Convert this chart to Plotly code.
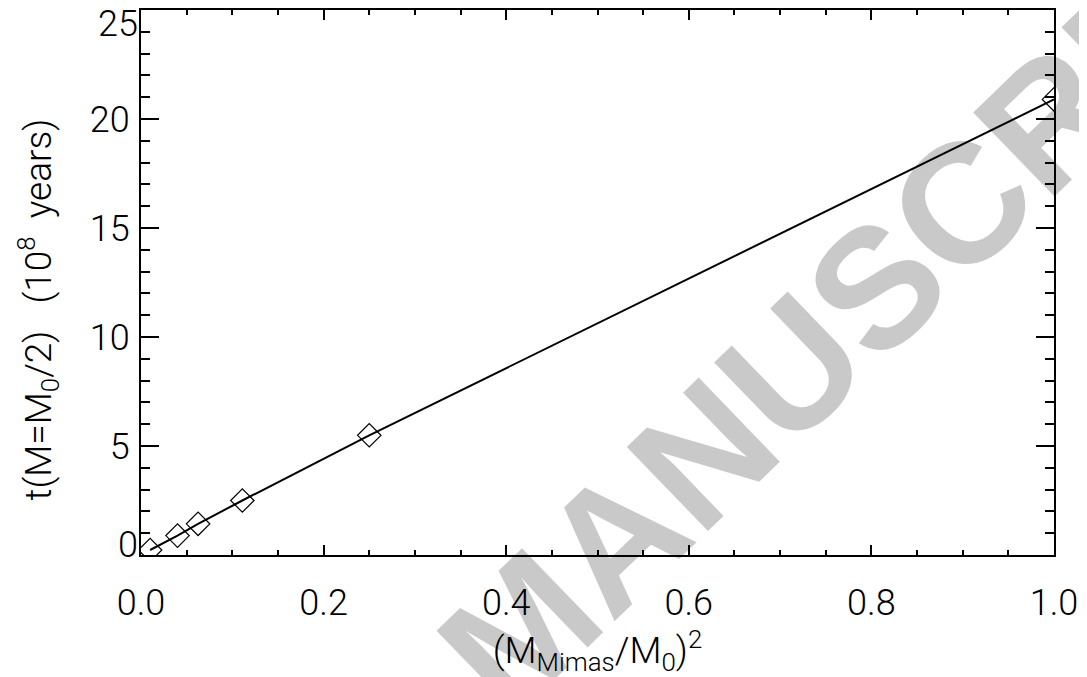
import plotly.graph_objects as go

# Data
mass_ratio_sq = [0.01, 0.04, 0.0625, 0.111, 0.25, 1.0]   # (M_Mimas/M_0)^2
t_half = [0.23, 0.89, 1.43, 2.50, 5.49, 20.9]            # t(M=M0/2) in 1e8 years

x_tick_vals = [0.0, 0.2, 0.4, 0.6, 0.8, 1.0]
x_tick_text = ["0.0", "0.2", "0.4", "0.6", "0.8", "1.0"]
y_tick_vals = [0, 5, 10, 15, 20, 25]
y_tick_text = ["", "5", "10", "15", "20", ""]
# end labels sit just inside the frame, as in the original
y_edge_label_pos = [0.5, 24.4]
y_edge_label_text = ["0", "25"]

TICK_FONT = dict(family="Roboto", size=36, color="black", weight=300)
TITLE_FONT = dict(family="Roboto", size=37, color="black", weight=300)

fig = go.Figure()
fig.add_trace(go.Scatter(
    x=mass_ratio_sq, y=t_half, mode="lines+markers",
    line=dict(color="black", width=2),
    marker=dict(symbol="diamond-open", size=18, color="black",
                line=dict(width=1.2, color="black")),
    showlegend=False,
))

axis_common = dict(
    showline=True, linecolor="black", linewidth=2, mirror="ticks",
    ticks="inside", tickcolor="black", tickwidth=2,
    showgrid=False, zeroline=False, tickfont=TICK_FONT,
)

fig.update_layout(
    xaxis=dict(
        **axis_common, range=[0, 1], tickvals=x_tick_vals, ticktext=x_tick_text,
        ticklen=10, ticklabelstandoff=15,
        minor=dict(dtick=0.05, ticklen=5, tickwidth=2, tickcolor="black", ticks="inside"),
        title=dict(text="(M<sub>Mimas</sub>/M<sub>0</sub>)<sup>2</sup>",
                   font=TITLE_FONT, standoff=0),
    ),
    yaxis=dict(
        **axis_common, range=[0, 25], tickvals=y_tick_vals, ticktext=y_tick_text,
        ticklen=18, ticklabelstandoff=2,
        minor=dict(dtick=1, ticklen=9, tickwidth=2, tickcolor="black", ticks="inside"),
        title=dict(text="t(M=M<sub>0</sub>/2)   (10<sup>8</sup>  years)" + "&nbsp;" * 6,
                   font=TITLE_FONT, standoff=27),
    ),
    yaxis2=dict(
        overlaying="y", side="left", range=[0, 25],
        tickvals=y_edge_label_pos, ticktext=y_edge_label_text,
        ticks="", showline=False, showgrid=False, zeroline=False,
        ticklabelstandoff=2, tickfont=TICK_FONT, ticklabeloverflow="allow",
    ),
)

# invisible anchor so that yaxis2 is drawn
fig.add_trace(go.Scatter(x=[None], y=[None], yaxis="y2", showlegend=False, hoverinfo="skip"))

fig.add_annotation(
    text="ACCEPTED MANUSCRIPT", xref="paper", yref="paper",
    x=0.418, y=-0.1335, xanchor="center", yanchor="middle",
    textangle=-44, showarrow=False,
    font=dict(family="Liberation Sans", size=170, color="rgba(0,0,0,0.21)", weight="bold"),
)

# page body has an 8px offset, so the figure is 8px smaller and margins shifted
fig.update_layout(
    width=1079, height=669,
    margin=dict(l=133, r=33, t=2, b=122, autoexpand=False),
    paper_bgcolor="white", plot_bgcolor="white",
    font=dict(family="Roboto", color="black"),
)

fig.write_html("out.html")
